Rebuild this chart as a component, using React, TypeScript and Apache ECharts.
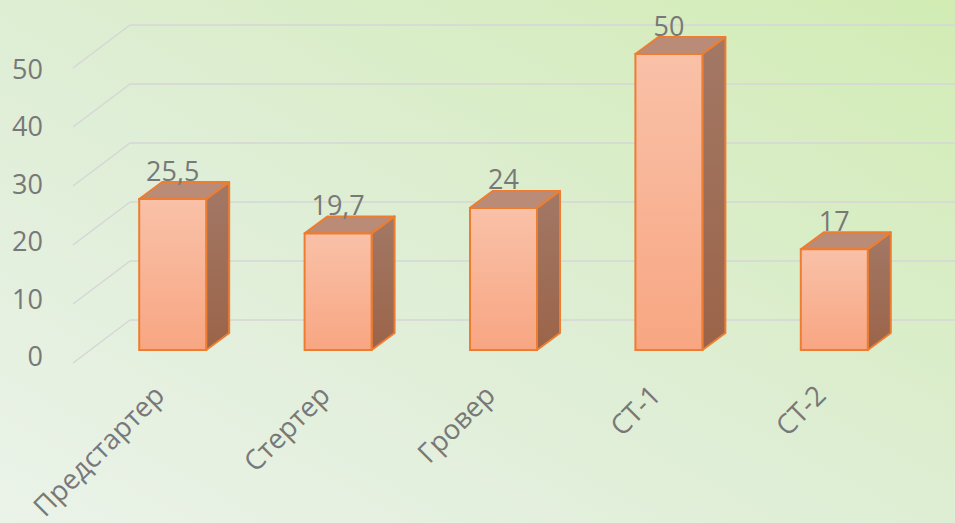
import React, { useEffect, useRef } from "react";
import * as echarts from "echarts";

const categories = ["Предстартер", "Стертер", "Гровер", "СТ-1", "СТ-2"];
const values = [25.5, 19.7, 24, 50, 17];
const yTicks = [0, 10, 20, 30, 40, 50];

const FONT = "'Open Sans', 'Noto Sans', sans-serif";
const TEXT = "#787878";
const DEPTH_X = 57;
const DEPTH_Y = 43;
const BAR_DX = 23;
const BAR_DY = 17;

const fmt = (v: number) => String(v).replace(".", ",");

export default function App() {
  const ref = useRef<HTMLDivElement>(null);
  useEffect(() => {
    if (!ref.current) return;
    const chart = echarts.init(ref.current, undefined, { renderer: "svg" });
    const G = echarts.graphic;
    chart.setOption({
      animation: false,
      backgroundColor: new G.LinearGradient(0, 1, 1, 0, [
        { offset: 0, color: "#ebf3e9" },
        { offset: 0.45, color: "#dfeed6" },
        { offset: 1, color: "#d2ecb4" },
      ]),
      grid: [
        { left: 90, top: 54, width: 827, height: 296 },
        { left: 76, top: 68, width: 827, height: 295 },
        { left: 130, top: 25, width: 825, height: 295 },
      ],
      xAxis: [
        { gridIndex: 0, type: "category", data: categories, show: false },
        {
          gridIndex: 1,
          type: "category",
          data: categories,
          axisLine: { show: false },
          axisTick: { show: false },
          axisLabel: {
            rotate: 45,
            margin: 34,
            color: TEXT,
            fontSize: 27.5,
            fontFamily: FONT,
          },
        },
        { gridIndex: 2, type: "value", min: 0, max: 1, show: false },
      ],
      yAxis: [
        { gridIndex: 0, type: "value", min: 0, max: 50, interval: 10, show: false },
        {
          gridIndex: 1,
          type: "value",
          min: 0,
          max: 50,
          interval: 10,
          axisLine: { show: false },
          axisTick: { show: false },
          splitLine: { show: false },
          axisLabel: { margin: 33, color: TEXT, fontSize: 27, fontFamily: FONT },
        },
        {
          gridIndex: 2,
          type: "value",
          min: 0,
          max: 50,
          interval: 10,
          axisLine: { show: false },
          axisTick: { show: false },
          axisLabel: { show: false },
          splitLine: { lineStyle: { color: "#d6d6d6", width: 1.5 } },
        },
      ],
      series: [
        {
          type: "custom",
          xAxisIndex: 2,
          yAxisIndex: 2,
          data: yTicks.map((v) => [0, v]),
          z: 1,
          renderItem: (params: any, api: any) => {
            const p = api.coord([0, api.value(1)]);
            return {
              type: "line",
              shape: { x1: p[0], y1: p[1], x2: p[0] - DEPTH_X, y2: p[1] + DEPTH_Y },
              style: { stroke: "#d6d6d6", lineWidth: 1.5 },
            };
          },
        },
        {
          type: "custom",
          xAxisIndex: 0,
          yAxisIndex: 0,
          data: values.map((v, i) => [i, v]),
          z: 5,
          renderItem: (params: any, api: any) => {
            const i = api.value(0);
            const v = api.value(1);
            const b = api.coord([i, 0]);
            const t = api.coord([i, v]);
            const w = api.size([1, 0])[0] * 0.405;
            const x = b[0] - w / 2;
            const by = b[1];
            const ty = t[1];
            const stroke = "#ed7d31";
            return {
              type: "group",
              children: [
                {
                  type: "polygon",
                  shape: {
                    points: [
                      [x + w, ty],
                      [x + w + BAR_DX, ty - BAR_DY],
                      [x + w + BAR_DX, by - BAR_DY],
                      [x + w, by],
                    ],
                  },
                  style: {
                    fill: new G.LinearGradient(0, 0, 0, 1, [
                      { offset: 0, color: "#a27865" },
                      { offset: 1, color: "#9b6449" },
                    ]),
                    stroke,
                    lineWidth: 2,
                    lineJoin: "round",
                  },
                },
                {
                  type: "polygon",
                  shape: {
                    points: [
                      [x, ty],
                      [x + w, ty],
                      [x + w + BAR_DX, ty - BAR_DY],
                      [x + BAR_DX, ty - BAR_DY],
                    ],
                  },
                  style: { fill: "#ba8b77", stroke, lineWidth: 2, lineJoin: "round" },
                },
                {
                  type: "rect",
                  shape: { x, y: ty, width: w, height: by - ty },
                  style: {
                    fill: new G.LinearGradient(0, 0, 0, 1, [
                      { offset: 0, color: "#f9c1a8" },
                      { offset: 1, color: "#f8a682" },
                    ]),
                    stroke,
                    lineWidth: 2,
                  },
                },
                {
                  type: "text",
                  style: {
                    text: fmt(v),
                    x: b[0],
                    y: ty - BAR_DY - 12,
                    align: "center",
                    verticalAlign: "middle",
                    fill: TEXT,
                    fontSize: 27,
                    fontFamily: FONT,
                  },
                },
              ],
            };
          },
        },
      ],
    });
    return () => chart.dispose();
  }, []);
  return (
    <div
      ref={ref}
      style={{ position: "absolute", left: 0, top: 0, width: 955, height: 523 }}
    />
  );
}
